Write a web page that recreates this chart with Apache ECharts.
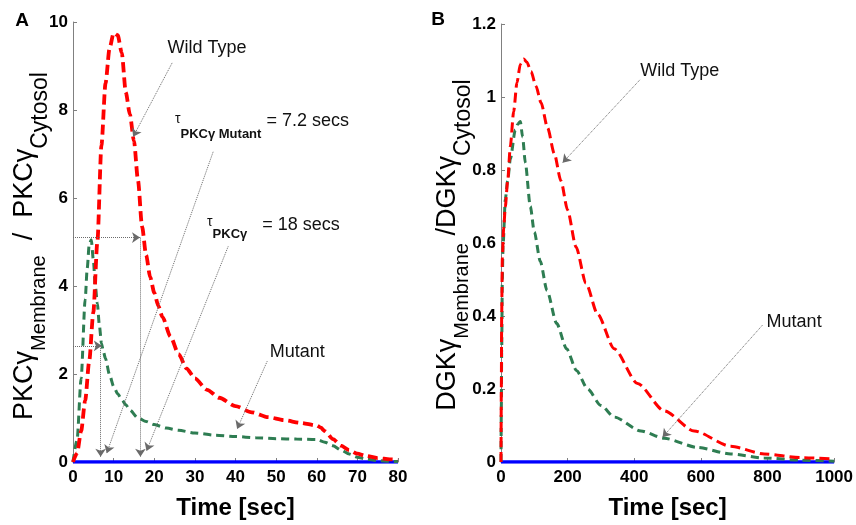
<!DOCTYPE html>
<html><head><meta charset="utf-8">
<script src="https://cdn.jsdelivr.net/npm/echarts@6/dist/echarts.min.js"></script>
<style>html,body{margin:0;padding:0;background:#fff}#c{width:856px;height:525px}</style>
</head><body><div id="c"></div>
<script>
// ---------- Panel A : PKCγ ----------
const pkcTicksX = [0, 80, 10];
const pkcTicksY = [0, 10, 2];
const pkcWildTime  = [0,1,2,3,4,5,6,7,8,9,10,11,12,13,14,15,16,17,18,19,20,21,22,24,26,28,30,33,36,40,44,48,52,56,60,61,62,64,66,68,70,72,75,78,80];
const pkcWildValue = [0,0.2,0.7,1.4,2.3,3.4,5.0,7.2,8.6,9.4,9.75,9.7,9.3,8.4,7.9,7.3,6.4,5.35,4.7,4.2,3.85,3.55,3.3,2.85,2.45,2.12,1.9,1.64,1.46,1.27,1.13,1.02,0.95,0.89,0.83,0.78,0.7,0.52,0.37,0.27,0.19,0.14,0.09,0.06,0.05];
const pkcMutTime   = [0,1,2,3,3.5,4,4.5,5,5.5,6,6.5,7,7.5,8,9,10,11,12,13,14,16,18,20,23,26,30,35,40,45,50,55,60,62,64,66,68,70,72,75,78,80];
const pkcMutValue  = [0,0.5,1.9,3.7,4.4,4.95,5.05,4.6,4.0,3.6,3.1,2.7,2.5,2.35,1.98,1.72,1.55,1.42,1.3,1.18,1.0,0.92,0.85,0.77,0.72,0.66,0.61,0.58,0.55,0.53,0.52,0.51,0.45,0.37,0.27,0.18,0.11,0.07,0.03,0.015,0.01];
const pkcBaseTime  = [0, 80];
const pkcBaseValue = [0, 0];
// annotation arrows [t0, y0, t1, y1]
const pkcArrows = [
  [24.4, 9.07, 14.8, 7.39],
  [34.5, 7.05, 8.3, 0.2],
  [38.2, 4.9, 18.1, 0.25],
  [47.8, 2.29, 40.4, 0.75],
  [0, 5.1, 16.5, 5.1],
  [16.6, 5.1, 16.6, 0.12],
  [0, 2.64, 7.1, 2.64],
  [6.8, 2.64, 6.8, 0.12]
];

// ---------- Panel B : DGKγ ----------
const dgkTicksX = [0, 1000, 200];
const dgkTicksY = [0, 1.2, 0.2];
const dgkWildTime  = [0,1,2,4,8,13,20,28,38,48,58,68,78,90,105,120,140,160,180,200,225,255,290,340,410,490,580,690,790,900,1000];
const dgkWildValue = [0,0.2,0.4,0.56,0.64,0.7,0.77,0.865,0.96,1.04,1.09,1.104,1.095,1.07,1.03,0.985,0.915,0.845,0.77,0.69,0.59,0.49,0.405,0.31,0.215,0.14,0.085,0.043,0.022,0.012,0.008];
const dgkMutTime   = [0,1,2,4,6,13,20,28,43,50,58,65,73,88,100,118,138,167,197,227,260,300,340,420,490,590,690,790,900,1000];
const dgkMutValue  = [0,0.15,0.3,0.5,0.59,0.72,0.77,0.83,0.91,0.925,0.933,0.89,0.82,0.7,0.63,0.55,0.47,0.38,0.31,0.25,0.2,0.155,0.123,0.085,0.065,0.04,0.022,0.011,0.005,0.002];
const dgkBaseTime  = [0, 1000];
const dgkBaseValue = [0, 0];
const dgkArrows = [
  [417, 1.047, 185, 0.82],
  [785, 0.375, 485, 0.068]
];

const zip = (a, b) => a.map((t, i) => [t, b[i]]);
const FONT = '"Liberation Sans", Arial, sans-serif';
const AXIS_COLOR = '#808080';
const RED = '#ff0000', GREEN = '#2e7d52', BLUE = '#0000ff';

function xAxisFor(g, ticks) {
  return {
    gridIndex: g, type: 'value', min: ticks[0], max: ticks[1], interval: ticks[2],
    name: 'Time [sec]', nameLocation: 'middle', nameGap: 34,
    nameTextStyle: { fontFamily: FONT, fontSize: 24, fontWeight: 'bold', color: '#000' },
    axisLine: { show: true, onZero: false, lineStyle: { color: AXIS_COLOR, width: 1 } },
    axisTick: { show: true, inside: true, length: 4, lineStyle: { color: AXIS_COLOR } },
    axisLabel: { fontFamily: FONT, fontSize: 17, fontWeight: 'bold', color: '#000', margin: 7,
      formatter: v => String(v) },
    splitLine: { show: false }
  };
}
function yAxisFor(g, ticks) {
  return {
    gridIndex: g, type: 'value', min: ticks[0], max: ticks[1], interval: ticks[2],
    axisLine: { show: true, onZero: false, lineStyle: { color: AXIS_COLOR, width: 1 } },
    axisTick: { show: true, inside: true, length: 4, lineStyle: { color: AXIS_COLOR } },
    axisLabel: { fontFamily: FONT, fontSize: 17, fontWeight: 'bold', color: '#000', margin: 5,
      formatter: v => String(+v.toFixed(2)) },
    splitLine: { show: false }
  };
}
function arrowMarks(list) {
  return {
    silent: true, animation: false,
    symbol: ['none', 'arrow'], symbolSize: 8,
    label: { show: false },
    emphasis: { disabled: true },
    lineStyle: { type: 'dotted', color: '#6a6a6a', width: 1 },
    data: list.map(a => [{ coord: [a[0], a[1]] }, { coord: [a[2], a[3]] }])
  };
}
function lineSeries(g, data, color, width, dash) {
  return {
    type: 'line', xAxisIndex: g, yAxisIndex: g, data: data,
    showSymbol: false, symbol: 'none', smooth: 0.25, smoothMonotone: 'x',
    lineStyle: { color: color, width: width, type: dash },
    emphasis: { disabled: true }, silent: true
  };
}

const chart = echarts.init(document.getElementById('c'));
chart.setOption({
  animation: false,
  backgroundColor: '#fff',
  grid: [
    { left: 73, right: 458, top: 22, bottom: 62 },
    { left: 501, right: 21, top: 24, bottom: 62 }
  ],
  xAxis: [xAxisFor(0, pkcTicksX), xAxisFor(1, dgkTicksX)],
  yAxis: [yAxisFor(0, pkcTicksY), yAxisFor(1, dgkTicksY)],
  series: [
    Object.assign(lineSeries(0, zip(pkcBaseTime, pkcBaseValue), BLUE, 3.5, 'solid'), { smooth: false, markLine: arrowMarks(pkcArrows) }),
    lineSeries(0, zip(pkcMutTime, pkcMutValue), GREEN, 3, [8, 5]),
    lineSeries(0, zip(pkcWildTime, pkcWildValue), RED, 3.8, [10, 5]),
    Object.assign(lineSeries(1, zip(dgkBaseTime, dgkBaseValue), BLUE, 3.5, 'solid'), { smooth: false, markLine: arrowMarks(dgkArrows) }),
    lineSeries(1, zip(dgkMutTime, dgkMutValue), GREEN, 3, [8, 5]),
    lineSeries(1, zip(dgkWildTime, dgkWildValue), RED, 3, [10, 5])
  ]
});

// ---------- text annotations (placed in data coordinates) ----------
const px = (g, p) => chart.convertToPixel({ gridIndex: g }, p);
const labelStyle = { fontFamily: FONT, fontSize: 18, fill: '#111' };
function plainLabel(g, p, text) {
  const q = px(g, p);
  return { type: 'text', x: q[0], y: q[1], silent: true, z: 100,
    style: Object.assign({ text: text, align: 'center', verticalAlign: 'middle' }, labelStyle) };
}
function tauLabel(g, p, sub, rest, subPad) {
  const q = px(g, p);
  return { type: 'text', x: q[0], y: q[1], silent: true, z: 100,
    style: {
      text: '{t|τ}{s|' + sub + '}{m|' + rest + '}', align: 'left', verticalAlign: 'top',
      rich: {
        t: { fontFamily: FONT, fontSize: 14, lineHeight: 16, verticalAlign: 'top', fill: '#111' },
        s: { fontFamily: FONT, fontSize: 13, fontWeight: 'bold', lineHeight: 14, verticalAlign: 'top', padding: [subPad, 0, 0, 0], fill: '#111' },
        m: { fontFamily: FONT, fontSize: 18, lineHeight: 20, verticalAlign: 'top', fill: '#111' }
      }
    } };
}
function yTitle(x, y, a, b) {
  return { type: 'text', x: x, y: y, rotation: Math.PI / 2, silent: true, z: 100,
    style: {
      text: '{m|' + a + '}{s|Membrane}{m|' + b + '}{c|Cytosol}', align: 'center', verticalAlign: 'middle',
      rich: {
        m: { fontFamily: FONT, fontSize: 27, lineHeight: 28, verticalAlign: 'top', fill: '#000' },
        s: { fontFamily: FONT, fontSize: 20, lineHeight: 20, verticalAlign: 'top', padding: [18, 0, 0, 0], fill: '#000' },
        c: { fontFamily: FONT, fontSize: 23, lineHeight: 20, verticalAlign: 'top', padding: [18, 0, 0, 0], fill: '#000' }
      }
    } };
}
chart.setOption({
  graphic: [
    { type: 'text', x: 22, y: 21, silent: true, style: { text: 'A', fontFamily: FONT, fontSize: 19, fontWeight: 'bold', fill: '#000', align: 'center', verticalAlign: 'middle' } },
    { type: 'text', x: 438, y: 20, silent: true, style: { text: 'B', fontFamily: FONT, fontSize: 19, fontWeight: 'bold', fill: '#000', align: 'center', verticalAlign: 'middle' } },
    yTitle(25, 246, 'PKCγ', '  /  PKCγ'),
    yTitle(448, 245, 'DGKγ', ' /DGKγ'),
    plainLabel(0, [33, 9.41], 'Wild Type'),
    plainLabel(0, [55.2, 2.49], 'Mutant'),
    tauLabel(0, [25.1, 7.96], 'PKCγ Mutant', ' = 7.2 secs', 16),
    tauLabel(0, [33.0, 5.6], 'PKCγ', '   = 18 secs', 12),
    plainLabel(1, [537, 1.072], 'Wild Type'),
    plainLabel(1, [880, 0.383], 'Mutant')
  ]
});
</script>
</body></html>
